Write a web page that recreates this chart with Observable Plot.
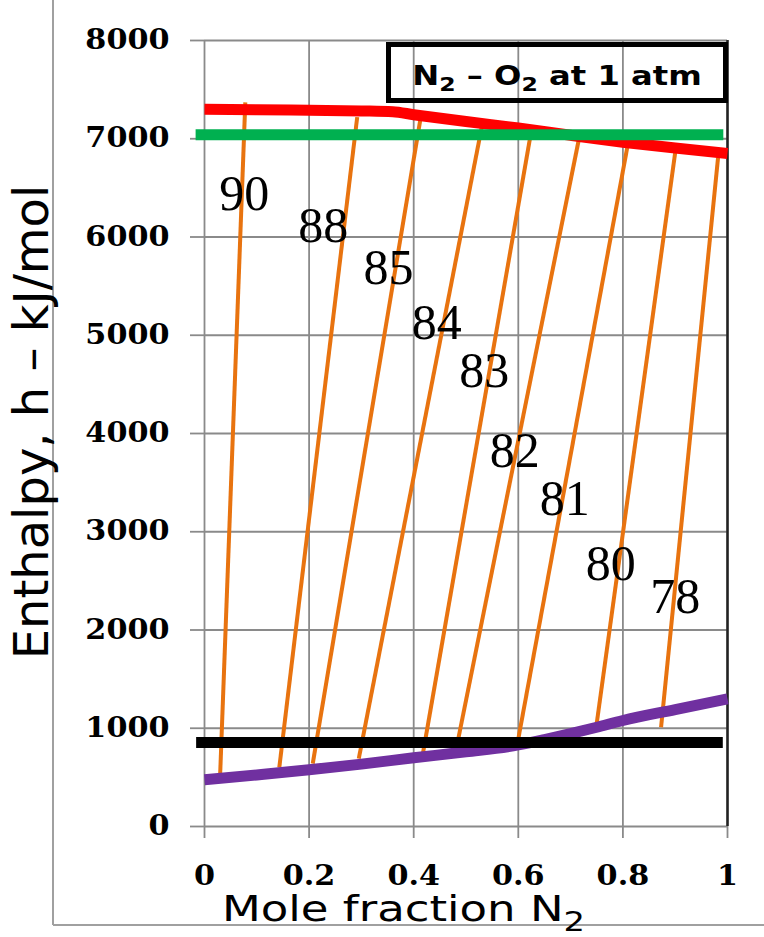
<!DOCTYPE html>
<html><head><meta charset="utf-8">
<script src="https://cdn.jsdelivr.net/npm/d3@7"></script>
<script src="https://cdn.jsdelivr.net/npm/@observablehq/plot@0.6"></script>
<style>body{margin:0;background:#fff;} #chart{position:relative;width:764px;height:937px;}</style>
</head><body><div id="chart"></div>
<script>
// ---- data ----
const xTicks = [0, 0.2, 0.4, 0.6, 0.8, 1];
const yTicks = [0, 1000, 2000, 3000, 4000, 5000, 6000, 7000, 8000];

// saturated vapour (red) enthalpy vs mole fraction N2
const redX = [0, 0.1, 0.2, 0.3, 0.36, 0.4, 0.5, 0.6, 0.7, 0.8, 0.9, 1.0];
const redH = [7300, 7295, 7290, 7283, 7275, 7245, 7175, 7110, 7035, 6965, 6905, 6850];

// saturated liquid (purple)
const purpleX = [0, 0.1, 0.2, 0.3, 0.4, 0.5, 0.6, 0.65, 0.7, 0.75, 0.8, 0.9, 1.0];
const purpleH = [475, 525, 577, 635, 699, 760, 830, 885, 945, 1010, 1079, 1190, 1300];

// horizontal reference lines
const greenX = [-0.017, 0.992];
const greenH = [7040, 7040];
const blackX = [-0.016, 0.991];
const blackH = [855, 855];

// isotherms (K): bottom point -> top point
const isoT  = [90, 88, 85, 84, 83, 82, 81, 80, 78];
const isoX0 = [0.030, 0.143, 0.207, 0.295, 0.418, 0.478, 0.597, 0.750, 0.873];
const isoH0 = [540, 600, 640, 690, 755, 700, 805, 1050, 1010];
const isoX1 = [0.078, 0.292, 0.413, 0.530, 0.625, 0.716, 0.809, 0.900, 0.982];
const isoH1 = [7370, 7220, 7205, 7115, 7085, 7000, 6930, 6860, 6810];

// isotherm label positions
const labelX = [0.076, 0.227, 0.352, 0.444, 0.535, 0.593, 0.689, 0.777, 0.900];
const labelH = [6440, 6110, 5685, 5120, 4640, 3822, 3335, 2670, 2340];

// ---- tables ----
const red = redX.map((x, i) => ({x, h: redH[i]}));
const purple = purpleX.map((x, i) => ({x, h: purpleH[i]}));
const green = greenX.map((x, i) => ({x, h: greenH[i]}));
const black = blackX.map((x, i) => ({x, h: blackH[i]}));
const iso = isoT.map((t, i) => ({t, x0: isoX0[i], h0: isoH0[i], x1: isoX1[i], h1: isoH1[i]}));
const labels = isoT.map((t, i) => ({t: String(t), x: labelX[i], h: labelH[i]}));

const GRID = "#8a8a8a";
const ORANGE = "#E8730F";

const plot = Plot.plot({
  width: 764, height: 937,
  marginLeft: 204, marginRight: 37, marginTop: 40, marginBottom: 111,
  x: {domain: [0, 1]},
  y: {domain: [0, 8000]},
  style: {background: "white", fontFamily: "DejaVu Sans"},
  marks: [
    Plot.ruleX(xTicks, {stroke: GRID, strokeWidth: 1.8}),
    Plot.ruleY(yTicks, {stroke: GRID, strokeWidth: 1.8}),
    Plot.axisX({ticks: xTicks, tickSize: 12, tickPadding: 27, stroke: GRID, strokeWidth: 1.8, fill: "black",
      tickFormat: d => String(d), fontSize: 27, fontFamily: "DejaVu Serif", fontWeight: "bold", label: null}),
    Plot.axisY({ticks: yTicks, tickSize: 14, tickPadding: 21, stroke: GRID, strokeWidth: 1.8, fill: "black",
      tickFormat: d => String(d), fontSize: 27, fontFamily: "DejaVu Serif", fontWeight: "bold", label: null}),
    Plot.ruleX([1], {stroke: "#222", strokeWidth: 2.5}),
    Plot.link(iso, {x1: "x0", y1: "h0", x2: "x1", y2: "h1", stroke: ORANGE, strokeWidth: 4}),
    Plot.line(purple, {x: "x", y: "h", stroke: "#7030A0", strokeWidth: 11, curve: "monotone-x", strokeLinecap: "butt"}),
    Plot.line(red, {x: "x", y: "h", stroke: "#FF0000", strokeWidth: 11, curve: "monotone-x", strokeLinecap: "butt"}),
    Plot.line(green, {x: "x", y: "h", stroke: "#00B050", strokeWidth: 11, strokeLinecap: "butt"}),
    Plot.line(black, {x: "x", y: "h", stroke: "#000000", strokeWidth: 11, strokeLinecap: "butt"}),
    Plot.text(labels, {x: "x", y: "h", text: "t", fontSize: 50, fontFamily: "Liberation Serif", fill: "black"})
  ]
});

document.getElementById("chart").appendChild(plot);

const svg = d3.select(plot);
// widen tick labels as in the reference
svg.selectAll('g[aria-label="y-axis tick label"] text, g[aria-label="x-axis tick label"] text').each(function() {
  const t = this.getAttribute("transform") || "";
  this.setAttribute("transform", t + " scale(1.12,1)");
});

// slide frame lines
svg.append("line").attr("x1", 53).attr("x2", 53).attr("y1", 0).attr("y2", 925).attr("stroke", "#a0a0a0").attr("stroke-width", 2);
svg.append("line").attr("x1", 53).attr("x2", 764).attr("y1", 925).attr("y2", 925).attr("stroke", "#a0a0a0").attr("stroke-width", 2);

// y label
svg.append("text").attr("transform", "translate(48,422) rotate(-90)").attr("text-anchor", "middle")
  .attr("font-family", "DejaVu Sans").attr("font-size", 48).attr("fill", "black").text("Enthalpy, h – kJ/mol");

// x label
const xl = svg.append("text").attr("transform", "translate(222,921) scale(1.25,1)").attr("text-anchor", "start")
  .attr("font-family", "DejaVu Sans").attr("font-size", 36).attr("fill", "black");
xl.append("tspan").text("Mole fraction N");
xl.append("tspan").attr("font-size", 27).attr("dy", 10).text("2");

// title box
svg.append("rect").attr("x", 388.5).attr("y", 44.5).attr("width", 337).attr("height", 56)
  .attr("fill", "none").attr("stroke", "black").attr("stroke-width", 5);
const tt = svg.append("text").attr("transform", "translate(557,85) scale(1.24,1)").attr("text-anchor", "middle")
  .attr("font-family", "DejaVu Sans").attr("font-weight", "bold").attr("font-size", 26).attr("fill", "black");
tt.append("tspan").text("N");
tt.append("tspan").attr("font-size", 19).attr("dy", 6).text("2");
tt.append("tspan").attr("dy", -6).text(" – O");
tt.append("tspan").attr("font-size", 19).attr("dy", 6).text("2");
tt.append("tspan").attr("dy", -6).text(" at 1 atm");
</script>
</body></html>
